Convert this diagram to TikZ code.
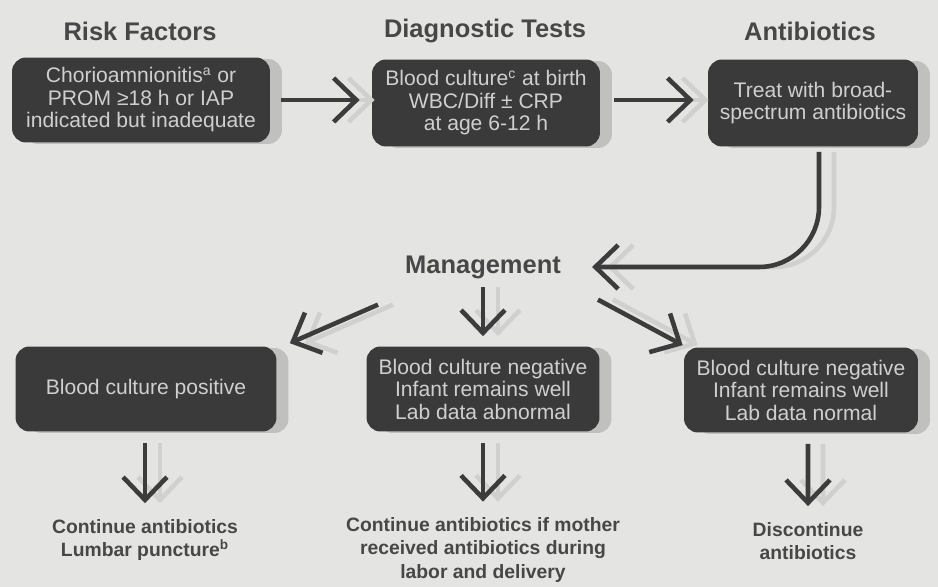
\documentclass[tikz,border=0pt]{standalone}
\usepackage{fontspec}
\setmainfont{Liberation Sans}
\usetikzlibrary{arrows.meta,shadows,positioning}
\definecolor{paper}{HTML}{E4E4E2}
\definecolor{boxgray}{HTML}{3A3A3A}
\definecolor{boxtext}{HTML}{CFCFCF}
\definecolor{headgray}{HTML}{474747}
\definecolor{arrowgray}{HTML}{3C3C3C}
\definecolor{ghostgray}{HTML}{D0D0CE}
\definecolor{shadowgray}{HTML}{B8B8B6}

\begin{document}
\begin{tikzpicture}[x=0.02cm,y=-0.02cm,
    heading/.style={font=\fontsize{14.5}{16}\selectfont\bfseries, text=headgray},
    darkbox/.style={fill=boxgray, rounded corners=0.28cm, text=boxtext, align=center,
        font=\fontsize{12}{12.8}\selectfont, inner sep=1pt,
        drop shadow={shadow xshift=0.24cm, shadow yshift=-0.03cm, fill=shadowgray, opacity=0.8}},
    outcome/.style={font=\fontsize{11}{13.2}\selectfont\bfseries, text=headgray, align=center},
    flow/.style={draw=arrowgray, line width=2.6pt,
        -{Straight Barb[length=13pt,width=25pt,line width=2.6pt]},
        preaction={draw=ghostgray, line width=2.6pt, transform canvas={xshift=0.3cm},
        -{Straight Barb[length=13pt,width=25pt,line width=2.6pt]}}}]
  \fill[paper] (0,0) rectangle (938,587);
  \useasboundingbox (0,0) rectangle (938,587);

  % headings
  \node[heading] (trisk) at (140,31) {Risk Factors};
  \node[heading] (tdiag) at (485,31) {Diagnostic Tests};
  \node[heading] (tabx) at (810,31) {Antibiotics};

  % top row
  \node[darkbox, minimum width=5.16cm, minimum height=1.7cm] (risk) at (141,100)
    {Chorioamnionitis\textsuperscript{a} or\\PROM ≥18 h or IAP\\indicated but inadequate};
  \node[darkbox, minimum width=4.56cm, minimum height=1.74cm] (diag) at (486,103)
    {Blood culture\textsuperscript{c} at birth\\WBC/Diff ± CRP\\at age 6-12 h};
  \node[darkbox, minimum width=4.2cm, minimum height=1.74cm] (abx) at (813,103)
    {Treat with broad-\\spectrum antibiotics};

  \node[heading] (mgmt) at (483,267) {Management};

  % second row
  \node[darkbox, minimum width=5.22cm, minimum height=1.7cm] (pos) at (146,389)
    {Blood culture positive};
  \node[darkbox, minimum width=4.66cm, minimum height=1.7cm] (negab) at (483,389)
    {Blood culture negative\\Infant remains well\\Lab data abnormal};
  \node[darkbox, minimum width=4.68cm, minimum height=1.7cm] (negnorm) at (801,390)
    {Blood culture negative\\Infant remains well\\Lab data normal};

  % outcomes
  \node[outcome] (outpos) at (145,540) {Continue antibiotics\\Lumbar puncture\textsuperscript{b}};
  \node[outcome] (outnegab) at (483,550) {Continue antibiotics if mother\\received antibiotics during\\labor and delivery};
  \node[outcome] (outnegnorm) at (808,541) {Discontinue\\antibiotics};

  % connectors
  \draw[flow, shorten <=0.22cm, shorten >=0.24cm] (risk.east) -- (diag.west |- risk.east);
  \draw[flow, shorten <=0.28cm, shorten >=0.28cm] (diag.east |- risk.east) -- (abx.west |- risk.east);
  \draw[flow, rounded corners=1.2cm] ([xshift=0.12cm,yshift=-0.1cm]abx.south) |- ([xshift=0.5cm]mgmt.east);
  \draw[flow] ([xshift=-2.1cm,yshift=-0.4cm]mgmt.south) -- ([xshift=0.26cm,yshift=0.06cm]pos.north east);
  \draw[flow] ([yshift=-0.05cm]mgmt.south) -- ([yshift=0.2cm]negab.north);
  \draw[flow] ([xshift=2.3cm,yshift=-0.3cm]mgmt.south) -- ([xshift=-0.02cm,yshift=0.04cm]negnorm.north west);
  \draw[flow] ([xshift=-0.02cm,yshift=-0.22cm]pos.south) -- ([yshift=0.2cm]outpos.north);
  \draw[flow] ([yshift=-0.22cm]negab.south) -- ([yshift=0.2cm]outnegab.north);
  \draw[flow] ([xshift=0.14cm,yshift=-0.22cm]negnorm.south) -- ([yshift=0.2cm]outnegnorm.north);
\end{tikzpicture}
\end{document}
